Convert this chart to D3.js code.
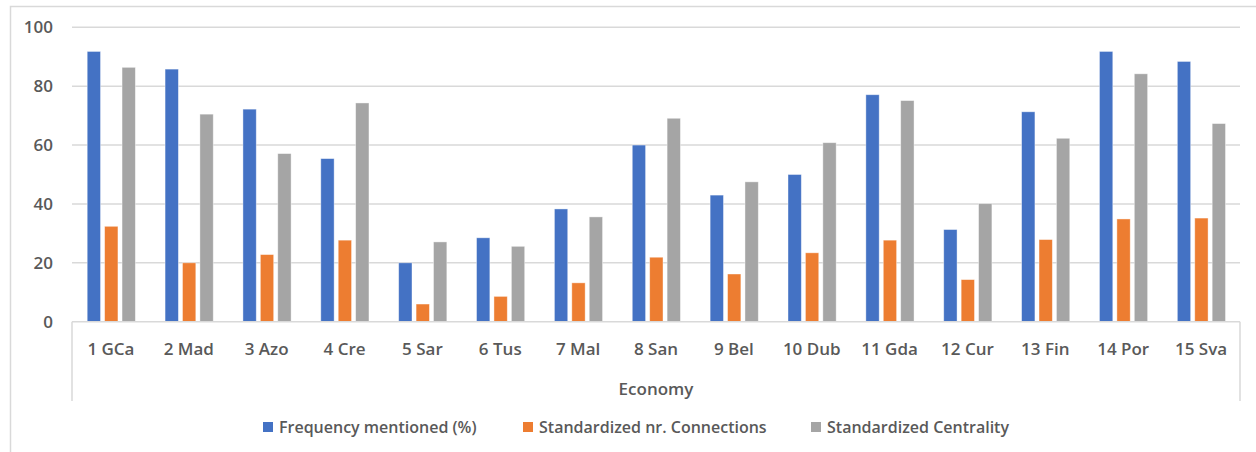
<!DOCTYPE html>
<html>
<head>
<meta charset="utf-8">
<script src="https://cdn.jsdelivr.net/npm/d3@7"></script>
<style>
  html, body { margin: 0; padding: 0; background: #fff; }
  svg { display: block; }
  text { font-family: "Open Sans", sans-serif; font-weight: 600; fill: #595959; }
</style>
</head>
<body>
<svg id="chart" width="1256" height="452"></svg>
<script>
// Economy categories along the x axis
const categories = ["1 GCa", "2 Mad", "3 Azo", "4 Cre", "5 Sar", "6 Tus", "7 Mal", "8 San",
  "9 Bel", "10 Dub", "11 Gda", "12 Cur", "13 Fin", "14 Por", "15 Sva"];

// Series names (legend order)
const seriesNames = ["Frequency mentioned (%)", "Standardized nr. Connections", "Standardized Centrality"];

// Series values, one per economy
const frequencyMentioned = [91.8, 85.8, 72.2, 55.4, 20.0, 28.5, 38.3, 60.0, 43.0, 50.0, 77.1, 31.3, 71.3, 91.8, 88.4];
const nrConnections      = [32.4, 20.0, 22.8, 27.7, 6.0, 8.6, 13.2, 21.9, 16.2, 23.4, 27.7, 14.3, 27.9, 34.9, 35.2];
const centrality         = [86.4, 70.5, 57.1, 74.3, 27.1, 25.6, 35.6, 69.1, 47.5, 60.8, 75.1, 40.1, 62.3, 84.2, 67.3];

// Y axis ticks
const yTicks = [0, 20, 40, 60, 80, 100];

const seriesValues = [frequencyMentioned, nrConnections, centrality];
const colors = ["#4472C4", "#ED7D31", "#A5A5A5"];

const svg = d3.select("#chart");

// Chart area frame (top and left edges visible)
svg.append("path")
  .attr("d", "M10.5,460 L10.5,6.5 L1260,6.5")
  .attr("fill", "none")
  .attr("stroke", "#D9D9D9")
  .attr("stroke-width", 1.5);

const plotLeft = 72, plotRight = 1240, plotTop = 27.3, plotBottom = 321.7;

const x = d3.scaleBand().domain(categories).range([plotLeft, plotRight]).padding(0);
const x1 = d3.scaleBand().domain(d3.range(seriesNames.length))
  .range([15.2, x.bandwidth() - 14.5]).paddingInner(0.235).paddingOuter(0);
const y = d3.scaleLinear().domain([0, 100]).range([plotBottom, plotTop]);

// Horizontal gridlines
svg.append("g")
  .selectAll("line")
  .data(yTicks.filter(d => d > 0))
  .join("line")
  .attr("x1", plotLeft).attr("x2", plotRight)
  .attr("y1", d => y(d)).attr("y2", d => y(d))
  .attr("stroke", "#D9D9D9").attr("stroke-width", 1.5);

// Y tick labels
svg.append("g")
  .selectAll("text")
  .data(yTicks)
  .join("text")
  .attr("x", 53)
  .attr("y", d => y(d))
  .attr("dy", "0.36em")
  .attr("text-anchor", "end")
  .attr("font-size", 17)
  .text(d => d);

// Bars
const groups = svg.append("g")
  .selectAll("g")
  .data(categories)
  .join("g")
  .attr("transform", d => `translate(${x(d)},0)`);

groups.selectAll("rect")
  .data((c, i) => seriesValues.map((vals, s) => ({ s, v: vals[i] })))
  .join("rect")
  .attr("x", d => x1(d.s))
  .attr("width", x1.bandwidth())
  .attr("y", d => y(d.v))
  .attr("height", d => y(0) - y(d.v))
  .attr("fill", d => colors[d.s])
  .attr("stroke", "#fff")
  .attr("stroke-opacity", 0.5)
  .attr("stroke-width", 0.8);

// Category axis: baseline and outer dividers
const axisG = svg.append("g").attr("stroke", "#D9D9D9").attr("stroke-width", 1.5);
axisG.append("line")
  .attr("x1", plotLeft).attr("x2", plotRight)
  .attr("y1", plotBottom).attr("y2", plotBottom);
axisG.append("line")
  .attr("x1", plotLeft).attr("x2", plotLeft)
  .attr("y1", plotBottom).attr("y2", 401);
axisG.append("line")
  .attr("x1", plotRight).attr("x2", plotRight)
  .attr("y1", plotBottom).attr("y2", 401);

// Category labels
svg.append("g")
  .selectAll("text")
  .data(categories)
  .join("text")
  .attr("x", d => x(d) + x.bandwidth() / 2)
  .attr("y", 349)
  .attr("dy", "0.36em")
  .attr("text-anchor", "middle")
  .attr("font-size", 17)
  .text(d => d);

// Axis title
svg.append("text")
  .attr("x", (plotLeft + plotRight) / 2)
  .attr("y", 389)
  .attr("dy", "0.36em")
  .attr("text-anchor", "middle")
  .attr("font-size", 17)
  .text("Economy");

// Legend
const legendX = [263, 523, 811];
const legend = svg.append("g")
  .selectAll("g")
  .data(seriesNames)
  .join("g")
  .attr("transform", (d, i) => `translate(${legendX[i]},427)`);
legend.append("rect")
  .attr("x", 0).attr("y", -5)
  .attr("width", 10).attr("height", 10)
  .attr("fill", (d, i) => colors[i]);
legend.append("text")
  .attr("x", 16)
  .attr("y", 0)
  .attr("dy", "0.36em")
  .attr("font-size", 16)
  .text(d => d);
</script>
</body>
</html>
